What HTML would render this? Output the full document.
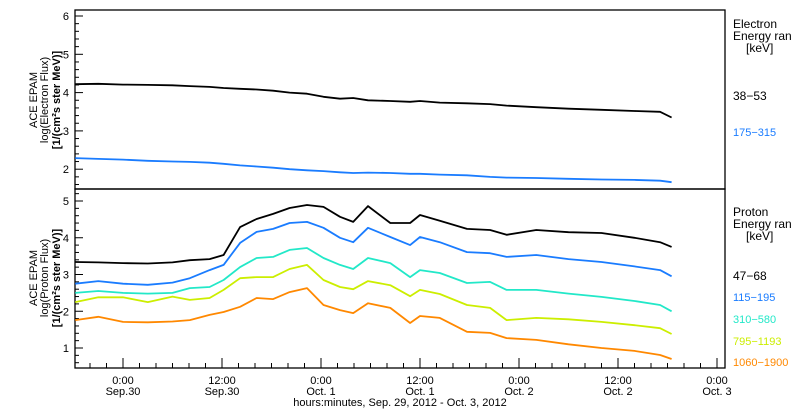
<!DOCTYPE html>
<html><head><meta charset="utf-8"><style>
html,body{margin:0;padding:0;background:#fff;}
svg{display:block;font-family:"Liberation Sans",sans-serif;}
</style></head><body>
<svg id="chart" width="800" height="410" viewBox="0 0 800 410" xmlns="http://www.w3.org/2000/svg">
<g id="axes"></g>
<g id="series"></g>
<g font-size="11" fill="#000" text-anchor="middle">
<text transform="translate(37,100) rotate(-90)">ACE EPAM</text>
<text transform="translate(48,100) rotate(-90)">log(Electron Flux)</text>
<text transform="translate(60,100) rotate(-90)" font-weight="bold">[1/(cm²s ster MeV)]</text>
</g>
<g font-size="11" fill="#000" text-anchor="middle">
<text transform="translate(37,278) rotate(-90)">ACE EPAM</text>
<text transform="translate(48,278) rotate(-90)">log(Proton Flux)</text>
<text transform="translate(60,278) rotate(-90)" font-weight="bold">[1/(cm²s ster MeV)]</text>
</g>
<g font-size="12" fill="#000">
<text x="733" y="28">Electron</text>
<text x="733" y="40">Energy ran</text>
<text x="746" y="52">[keV]</text>
<text x="733" y="100">38−53</text>
<text x="733" y="136" fill="#1a7cff" font-size="11">175−315</text>
</g>
<g font-size="12" fill="#000">
<text x="733" y="216">Proton</text>
<text x="733" y="228">Energy ran</text>
<text x="746" y="240">[keV]</text>
<text x="733" y="280">47−68</text>
<text x="733" y="301" fill="#1a7cff" font-size="11">115−195</text>
<text x="733" y="323" fill="#22e8c8" font-size="11">310−580</text>
<text x="733" y="345" fill="#ccee00" font-size="11">795−1193</text>
<text x="733" y="366" fill="#ff8800" font-size="11">1060−1900</text>
</g>
<text x="400" y="406" font-size="11" text-anchor="middle">hours:minutes, Sep. 29, 2012 - Oct. 3, 2012</text>
</svg>
<script>
const times = [-5.8,-3,0,3,6,8.1,10.5,12.2,14.2,16.2,18.2,20.2,22.3,24.3,26.3,27.9,29.7,32.4,34.8,36,38.4,41.7,44.5,46.5,50.1,54,58,62,65.1,66.5];
const elec38 = [4.22,4.23,4.21,4.20,4.19,4.17,4.15,4.12,4.10,4.08,4.05,4.00,3.97,3.89,3.84,3.86,3.80,3.78,3.76,3.78,3.74,3.72,3.70,3.66,3.62,3.58,3.55,3.52,3.50,3.35];
const elec175 = [2.29,2.27,2.25,2.22,2.20,2.19,2.17,2.14,2.10,2.07,2.04,2.00,1.97,1.95,1.92,1.90,1.91,1.90,1.88,1.88,1.86,1.84,1.80,1.78,1.77,1.75,1.73,1.72,1.70,1.66];
const prot47 = [3.34,3.33,3.31,3.30,3.33,3.39,3.42,3.53,4.29,4.51,4.65,4.81,4.89,4.84,4.57,4.43,4.86,4.40,4.40,4.62,4.46,4.24,4.21,4.08,4.21,4.15,4.13,4.00,3.88,3.75];
const prot115 = [2.75,2.82,2.75,2.72,2.78,2.90,3.12,3.26,3.86,4.16,4.24,4.40,4.43,4.27,4.00,3.88,4.27,4.02,3.80,4.02,3.88,3.61,3.58,3.48,3.53,3.42,3.34,3.22,3.12,2.95];
const prot310 = [2.50,2.55,2.50,2.48,2.50,2.63,2.66,2.85,3.20,3.45,3.48,3.67,3.72,3.45,3.26,3.15,3.45,3.31,2.93,3.12,3.04,2.77,2.80,2.58,2.58,2.48,2.39,2.28,2.17,2.00];
const prot795 = [2.25,2.38,2.38,2.25,2.40,2.31,2.36,2.58,2.90,2.93,2.93,3.15,3.26,2.85,2.66,2.60,2.82,2.71,2.41,2.58,2.47,2.17,2.09,1.76,1.82,1.78,1.71,1.62,1.54,1.38];
const prot1060 = [1.76,1.85,1.71,1.70,1.72,1.76,1.90,1.98,2.12,2.36,2.33,2.52,2.63,2.17,2.03,1.95,2.22,2.09,1.68,1.87,1.82,1.44,1.41,1.27,1.22,1.10,1.00,0.92,0.81,0.70];
const topTicks = ["2","3","4","5","6"];
const botTicks = ["1","2","3","4","5"];
const xTickTimes = ["0:00","12:00","0:00","12:00","0:00","12:00","0:00"];
const xTickDates = ["Sep.30","Sep.30","Oct. 1","Oct. 1","Oct. 2","Oct. 2","Oct. 3"];

const NS="http://www.w3.org/2000/svg";
const L=75,R=725,T1=10,B1=189,T2=189,B2=368;
const xs=t=>123+t*8.25;
const yTop=v=>16+(6-v)*38.3;
const yBot=v=>201+(5-v)*36.75;
const axes=document.getElementById('axes'), ser=document.getElementById('series');
function mk(tag,attrs,parent){const e=document.createElementNS(NS,tag);for(const k in attrs)e.setAttribute(k,attrs[k]);parent.appendChild(e);return e;}

const f1=mk('rect',{x:L,y:T1,width:R-L,height:B1-T1,fill:'none',stroke:'#000','stroke-width':1.3},axes);


const f2=mk('rect',{x:L,y:T2,width:R-L,height:B2-T2,fill:'none',stroke:'#000','stroke-width':1.3},axes);



function yAxis(lbls,yf,top,bot,name){
  const g=mk('g',{},axes);
  
  
  for(let v=0;v<=7;v+=0.2){const y=yf(v);if(y<top+1||y>bot-1)continue;
    const major=Math.abs(v-Math.round(v))<0.01;
    mk('line',{x1:L,x2:L+(major?8:4),y1:y,y2:y,stroke:'#000','stroke-width':1},g);}
  lbls.forEach(s=>{const y=yf(+s);const t=mk('text',{x:L-6,y:y+4,'font-size':11,'text-anchor':'end'},g);t.textContent=s;
    
    });
}
yAxis(topTicks,yTop,T1,B1,'electron-y-axis');
yAxis(botTicks,yBot,T2,B2,'proton-y-axis');

const gx=mk('g',{},axes);


for(let t=-4;t<=72;t+=2){const x=xs(t);if(x<L||x>R)continue;const major=t%12===0;
  mk('line',{x1:x,x2:x,y1:B2,y2:B2-(major?10:5),stroke:'#000','stroke-width':1},gx);}
xTickTimes.forEach((s,i)=>{const x=xs(i*12);
  const a=mk('text',{x:x,y:384,'font-size':11,'text-anchor':'middle'},gx);a.textContent=s;
  
  
  const b=mk('text',{x:x,y:395,'font-size':11,'text-anchor':'middle'},gx);b.textContent=xTickDates[i];
  
  });

function line(vals,yf,color,name){
  const pts=times.map((t,i)=>xs(t).toFixed(1)+','+yf(vals[i]).toFixed(1)).join(' ');
  const p=mk('polyline',{points:pts,fill:'none',stroke:color,'stroke-width':1.8,'stroke-linejoin':'round'},ser);
  
  
}
line(elec38,yTop,'#000','electron-38-53-line');
line(elec175,yTop,'#1a7cff','electron-175-315-line');
line(prot47,yBot,'#000','proton-47-68-line');
line(prot115,yBot,'#1a7cff','proton-115-195-line');
line(prot310,yBot,'#22e8c8','proton-310-580-line');
line(prot795,yBot,'#ccee00','proton-795-1193-line');
line(prot1060,yBot,'#ff8800','proton-1060-1900-line');
</script>
</body></html>
